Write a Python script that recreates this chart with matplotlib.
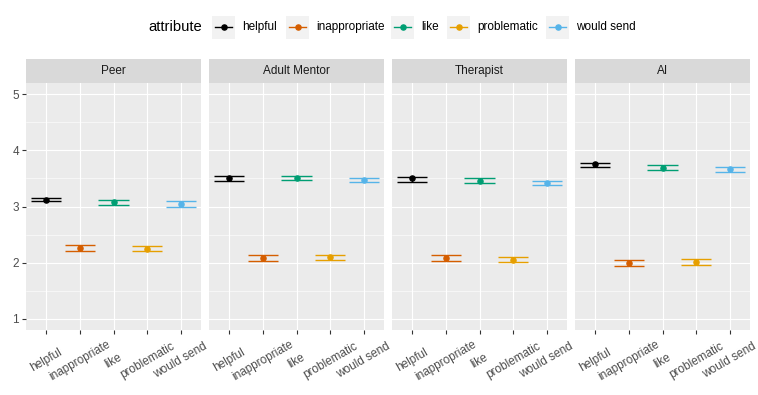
import matplotlib
matplotlib.use("Agg")
import matplotlib.pyplot as plt
from matplotlib.patches import Rectangle
from matplotlib.lines import Line2D
import numpy as np

attributes = ["helpful", "inappropriate", "like", "problematic", "would send"]
sources = ["Peer", "Adult Mentor", "Therapist", "AI"]
colors = ["#000000", "#D55E00", "#009E73", "#E69F00", "#56B4E9"]

peer_mean = [3.12, 2.26, 3.08, 2.25, 3.05]
peer_lo = [3.09, 2.21, 3.03, 2.21, 3.00]
peer_hi = [3.16, 2.32, 3.12, 2.30, 3.10]

mentor_mean = [3.51, 2.08, 3.51, 2.10, 3.48]
mentor_lo = [3.46, 2.03, 3.48, 2.05, 3.44]
mentor_hi = [3.55, 2.14, 3.55, 2.14, 3.51]

therapist_mean = [3.50, 2.08, 3.46, 2.05, 3.42]
therapist_lo = [3.44, 2.03, 3.42, 2.01, 3.39]
therapist_hi = [3.53, 2.14, 3.50, 2.10, 3.46]

ai_mean = [3.75, 2.00, 3.69, 2.01, 3.67]
ai_lo = [3.71, 1.94, 3.655, 1.96, 3.62]
ai_hi = [3.78, 2.05, 3.745, 2.07, 3.71]

means = [peer_mean, mentor_mean, therapist_mean, ai_mean]
lows = [peer_lo, mentor_lo, therapist_lo, ai_lo]
highs = [peer_hi, mentor_hi, therapist_hi, ai_hi]

plt.rcParams["font.family"] = ["Liberation Sans", "DejaVu Sans"]

W, H = 758, 395
fig = plt.figure(figsize=(W / 100, H / 100), dpi=100)
fig.patch.set_facecolor("white")


def px_rect(x0, y0, x1, y1):
    # pixel box (top-left origin) -> figure fraction rect
    return [x0 / W, 1 - y1 / H, (x1 - x0) / W, (y1 - y0) / H]


panel_x = [26, 209, 392, 575]
panel_w = 175
panel_top, panel_bottom = 83, 330
strip_top = 59

x = np.arange(len(attributes))
for k, src in enumerate(sources):
    x0 = panel_x[k]
    ax = fig.add_axes(px_rect(x0, panel_top, x0 + panel_w, panel_bottom))
    ax.set_facecolor("#EBEBEB")
    for s in ax.spines.values():
        s.set_visible(False)
    ax.set_xlim(-0.6, len(attributes) - 0.4)
    ax.set_ylim(0.8, 5.2)
    ax.set_yticks([1, 2, 3, 4, 5])
    ax.set_yticks([1.5, 2.5, 3.5, 4.5], minor=True)
    ax.set_xticks(x)
    ax.set_xticklabels(attributes)
    ax.grid(True, which="major", color="white", linewidth=0.8)
    ax.grid(True, which="minor", axis="y", color="white", linewidth=0.4)
    ax.set_axisbelow(True)
    ax.tick_params(axis="x", which="major", length=3, width=0.8, color="#333333",
                   labelsize=8.5, labelcolor="#4D4D4D", pad=19)
    plt.setp(ax.get_xticklabels(), rotation=30, ha="center", va="center",
             rotation_mode="default")
    ax.tick_params(axis="y", which="minor", length=0)
    if k == 0:
        ax.tick_params(axis="y", which="major", length=3, width=0.8, color="#333333",
                       labelsize=8.5, labelcolor="#4D4D4D", pad=2)
    else:
        ax.tick_params(axis="y", which="major", length=0, labelleft=False)

    m = np.array(means[k])
    lo = np.array(lows[k])
    hi = np.array(highs[k])
    for i in range(len(attributes)):
        c = colors[i]
        ax.hlines([lo[i], hi[i]], x[i] - 0.45, x[i] + 0.45, color=c, linewidth=1.0)
        ax.vlines(x[i], lo[i], hi[i], color=c, linewidth=1.0)
        ax.plot(x[i], m[i], "o", color=c, markersize=3.7, zorder=3)

    sax = fig.add_axes(px_rect(x0, strip_top, x0 + panel_w, panel_top))
    sax.set_facecolor("#D9D9D9")
    sax.set_xticks([])
    sax.set_yticks([])
    for s in sax.spines.values():
        s.set_visible(False)
    sax.text(0.5, 0.5, src, ha="center", va="center", fontsize=8.5,
             color="#1A1A1A", transform=sax.transAxes)

# legend (ggplot style, title on the left)
lax = fig.add_axes([0, 0, 1, 1], facecolor="none")
lax.set_xlim(0, W)
lax.set_ylim(H, 0)
lax.axis("off")
leg_y = 27
lax.text(148, leg_y, "attribute", fontsize=10.6, color="black", ha="left", va="center")
key_x = [212, 286, 391, 447, 546]
for i, name in enumerate(attributes):
    kx = key_x[i]
    lax.add_patch(Rectangle((kx, leg_y - 11.5), 23, 23, facecolor="#F2F2F2",
                            edgecolor="none"))
    lax.add_line(Line2D([kx + 3, kx + 20], [leg_y, leg_y], color=colors[i], linewidth=1.0))
    lax.plot(kx + 11.5, leg_y, "o", color=colors[i], markersize=3.7)
    lax.text(kx + 30, leg_y, name, fontsize=8.5, color="black", ha="left", va="center")

fig.savefig("out.png", dpi=100)
